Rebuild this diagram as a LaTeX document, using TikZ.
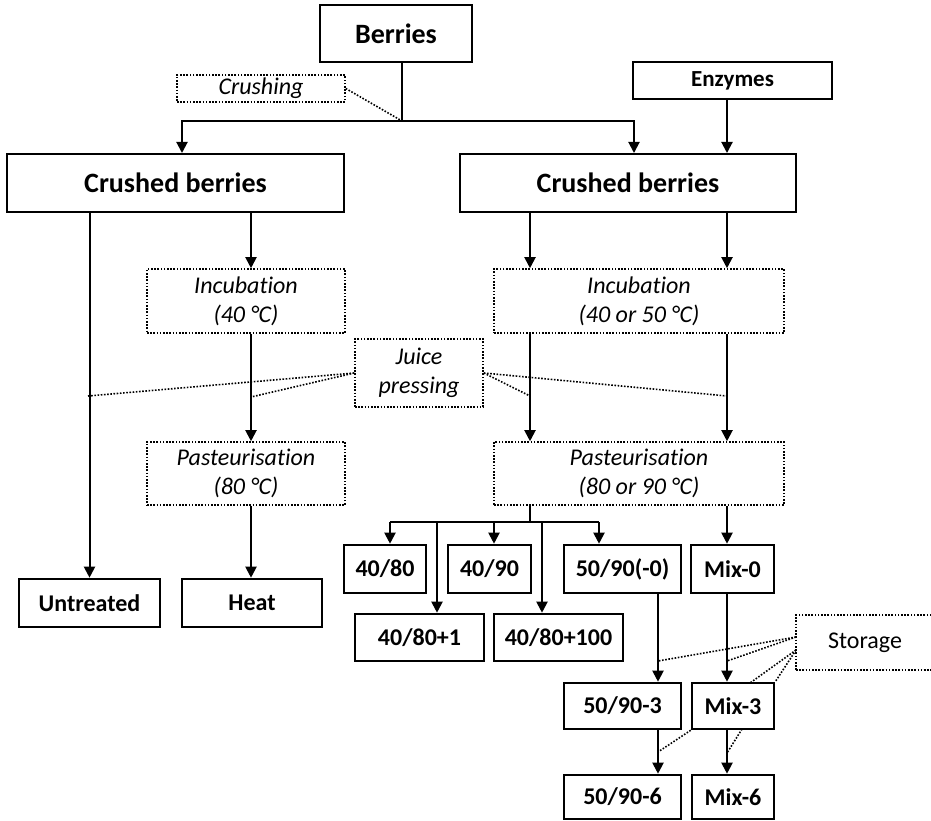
\documentclass[tikz,border=0pt]{standalone}
\usepackage{fontspec}
\setmainfont{Carlito}[Ligatures=CommonOff]
\usetikzlibrary{arrows.meta}

\tikzset{
  stage/.style={draw, line width=2pt, inner sep=0pt, align=center,
    font=\bfseries\fontsize{28}{34}\selectfont},
  enzbox/.style={draw, line width=2pt, inner sep=0pt, align=center,
    font=\bfseries\fontsize{23}{28}\selectfont},
  sample/.style={draw, line width=2.6pt, inner sep=0pt, align=center,
    font=\bfseries\fontsize{24}{29}\selectfont},
  process/.style={draw, line width=1.6pt, dash pattern=on 1.6pt off 1.6pt,
    inner sep=0pt, align=center, font=\itshape\fontsize{24}{29}\selectfont},
  storebox/.style={process, font=\fontsize{24}{29}\selectfont},
  flow/.style={line width=2pt, -{Triangle[length=11pt,width=11pt]}},
  plain/.style={line width=2pt},
  hint/.style={line width=1.6pt, dash pattern=on 1.6pt off 1.6pt}
}

\begin{document}
\begin{tikzpicture}[x=1pt,y=-1pt]
\useasboundingbox (0,0) rectangle (931,821);

% top stages
\node[stage, minimum width=152, minimum height=57] (berries) at (396,33.5) {Berries};
\node[enzbox, minimum width=199, minimum height=37] (enzymes) at (732.5,80.5) {Enzymes};
\node[process, minimum width=168, minimum height=27] (crushing) at (261,88.5) {Crushing};
\node[stage, minimum width=337, minimum height=58] (crushL) at (175.5,183) {Crushed berries};
\node[stage, minimum width=336, minimum height=58] (crushR) at (628,183) {Crushed berries};

% processing steps
\node[process, minimum width=198, minimum height=64] (incL) at (246,301) {Incubation\\(40 °C)};
\node[process, minimum width=290, minimum height=64] (incR) at (639,301) {Incubation\\(40 or 50 °C)};
\node[process, minimum width=128, minimum height=68] (juice) at (419,373) {Juice\\pressing};
\node[process, minimum width=198, minimum height=63] (pastL) at (246,473.5) {Pasteurisation\\(80 °C)};
\node[process, minimum width=290, minimum height=63] (pastR) at (639,473.5) {Pasteurisation\\(80 or 90 °C)};

% juice samples
\node[sample, minimum width=141, minimum height=48] (untreated) at (89.5,603) {Untreated};
\node[sample, minimum width=140, minimum height=48] (heat) at (252,603) {Heat};
\node[sample, minimum width=82, minimum height=48] (s4080) at (385,569) {40/80};
\node[sample, minimum width=83, minimum height=48] (s4090) at (489.5,569) {40/90};
\node[sample, minimum width=117, minimum height=48] (s5090) at (622.5,569) {50/90(-0)};
\node[sample, minimum width=83, minimum height=48] (mix0) at (732.5,569) {Mix-0};
\node[sample, minimum width=129, minimum height=47] (s4080a) at (419.5,637.5) {40/80+1};
\node[sample, minimum width=129, minimum height=47] (s4080b) at (558.5,637.5) {40/80+100};
\node[storebox, minimum width=149, minimum height=55] (storage) at (870.5,642.5) {\hspace*{-11pt}Storage};
\node[sample, minimum width=117, minimum height=46] (s50903) at (622.5,706) {50/90-3};
\node[sample, minimum width=82, minimum height=46] (mix3) at (733,706) {Mix-3};
\node[sample, minimum width=117, minimum height=44] (s50906) at (622.5,797) {50/90-6};
\node[sample, minimum width=82, minimum height=44] (mix6) at (733,797) {Mix-6};

% crushing split
\coordinate (split) at (402,121);
\draw[plain] (berries.south -| split) -- (split);
\draw[flow] (split) -| ([xshift=6.5]crushL.north);
\draw[flow] (split) -| ([xshift=6]crushR.north);
\draw[flow] ([xshift=-5.5]enzymes.south) -- ([xshift=-5.5]enzymes.south |- crushR.north);
\draw[hint] (crushing.east) -- (split);

% left branch
\draw[flow] (crushL.south -| untreated.north) -- (untreated.north);
\draw[flow] ([xshift=5]crushL.south -| incL.north) -- ([xshift=5]incL.north);
\draw[flow] ([xshift=5]incL.south) -- ([xshift=5]pastL.north);
\draw[flow] ([xshift=5]pastL.south) -- ([xshift=5]pastL.south |- heat.north);

% right branch
\coordinate (cA) at (530,0);
\coordinate (cB) at (727,0);
\draw[flow] (crushR.south -| cA) -- (incR.north -| cA);
\draw[flow] (crushR.south -| cB) -- (incR.north -| cB);
\draw[flow] (incR.south -| cA) -- (pastR.north -| cA);
\draw[flow] (incR.south -| cB) -- (pastR.north -| cB);
\draw[flow] (pastR.south -| cB) -- (mix0.north -| cB);

% juice pressing annotations
\coordinate (jp1) at (88,396);
\coordinate (jp2) at (251,397);
\coordinate (jp3) at (530,396);
\coordinate (jp4) at (727,396);
\draw[hint] (juice.west) -- (jp1);
\draw[hint] (juice.west) -- (jp2);
\draw[hint] (juice.east) -- (jp3);
\draw[hint] (juice.east) -- (jp4);

% sample distribution
\coordinate (bar) at (530,522);
\draw[plain] (pastR.south -| bar) -- (bar);
\draw[plain] (390,522) -- (599,522);
\draw[flow] (390,522) -- (s4080.north -| 390,0);
\draw[flow] (494,522) -- (s4090.north -| 494,0);
\draw[flow] (599,522) -- (s5090.north -| 599,0);
\draw[flow] (437,522) -- (s4080a.north -| 437,0);
\draw[flow] (542,522) -- (s4080b.north -| 542,0);

% storage chain
\coordinate (cC) at (658,0);
\draw[flow] (s5090.south -| cC) -- (s50903.north -| cC);
\draw[flow] (s50903.south -| cC) -- (s50906.north -| cC);
\draw[flow] (mix0.south -| cB) -- (mix3.north -| cB);
\draw[flow] (mix3.south -| cB) -- (mix6.north -| cB);

% storage annotations
\coordinate (st1) at (796,637);
\coordinate (st2) at (796,650);
\draw[hint] (st1) -- (658,661);
\draw[hint] (st1) -- (727,661);
\draw[hint] (st2) -- (750,683);
\draw[hint] (st2) -- (mix3.north east);
\draw[hint] (mix3.south west) -- (658,752);
\draw[hint] (742,729) -- (727,753);
\end{tikzpicture}
\end{document}
